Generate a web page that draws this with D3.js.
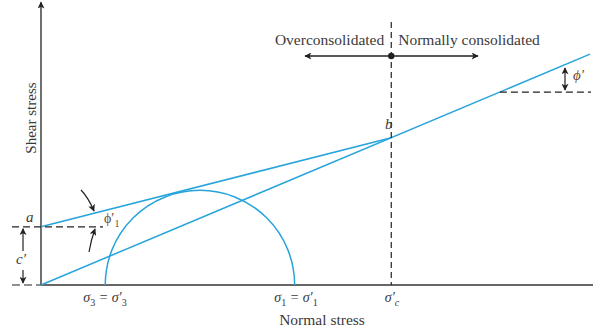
<!DOCTYPE html>
<html><head><meta charset="utf-8">
<script src="https://cdn.jsdelivr.net/npm/d3@7"></script>
<style>
html,body{margin:0;padding:0;background:#fff;}
svg{display:block;}
text{font-family:"Liberation Serif","Times New Roman",serif;fill:#3a3a3a;}
</style></head>
<body>
<svg id="chart" width="596" height="332"></svg>
<script>
// ---- data (stress units) ----
const principalStress = [11.7, 46.2];      // σ3, σ1 of the Mohr circle
const preconsolidation = [63.8];           // σ'c
const cohesion = [10.6];                   // c'
const ncSlope = [0.4205];                  // tan φ' (normally consolidated envelope)
const axisMax = [100, 51.5];               // normal-stress, shear-stress extents
const regionLabels = ["Overconsolidated", "Normally consolidated"];
const axisTitles = ["Normal stress", "Shear stress"];

const svg = d3.select("#chart");
const blue = "#27a4db", ink = "#333";

const pxPerUnit = (590 - 41) / axisMax[0];
const x = d3.scaleLinear().domain([0, axisMax[0]]).range([41, 590]);
const y = d3.scaleLinear().domain([0, axisMax[1]]).range([285, 285 - pxPerUnit * axisMax[1]]);

const defs = svg.append("defs");
function marker(id, color) {
  defs.append("marker").attr("id", id).attr("viewBox", "0 0 10 10")
    .attr("refX", 9).attr("refY", 5).attr("markerWidth", 9).attr("markerHeight", 7)
    .attr("markerUnits", "userSpaceOnUse").attr("orient", "auto")
    .append("path").attr("d", "M0,0 L10,5 L0,10 L2.5,5 Z").attr("fill", color);
}
marker("arr", "#222");

// axes
svg.append("line").attr("x1", x(0)).attr("x2", x(0)).attr("y1", y(0)).attr("y2", y(axisMax[1]))
  .attr("stroke", ink).attr("stroke-width", 1.4).attr("marker-end", "url(#arr)");
svg.append("line").attr("x1", x(0)).attr("x2", 593).attr("y1", y(0)).attr("y2", y(0))
  .attr("stroke", ink).attr("stroke-width", 1.4);
svg.append("line").attr("x1", 12).attr("x2", x(0)).attr("y1", y(0)).attr("y2", y(0))
  .attr("stroke", "#222").attr("stroke-width", 1.2).attr("stroke-dasharray", "8,4");

const s3 = principalStress[0], s1 = principalStress[1], sc = preconsolidation[0], c = cohesion[0], k = ncSlope[0];
const tauB = sc * k;

// Mohr circle
const r = (x(s1) - x(s3)) / 2;
svg.append("path")
  .attr("d", `M${x(s3)},${y(0)} A${r},${r} 0 0 1 ${x(s1)},${y(0)}`)
  .attr("fill", "none").attr("stroke", blue).attr("stroke-width", 1.5);

// envelopes
const line = d3.line().x(d => x(d[0])).y(d => y(d[1]));
svg.append("path").datum([[0, 0], [axisMax[0], axisMax[0] * k]]).attr("d", line)
  .attr("fill", "none").attr("stroke", blue).attr("stroke-width", 1.5);
svg.append("path").datum([[0, c], [sc, tauB]]).attr("d", line)
  .attr("fill", "none").attr("stroke", blue).attr("stroke-width", 1.5);

// dashed lines
svg.append("line").attr("x1", 12).attr("x2", 103).attr("y1", y(c)).attr("y2", y(c))
  .attr("stroke", "#222").attr("stroke-width", 1.2).attr("stroke-dasharray", "7,4");
svg.append("line").attr("x1", x(sc)).attr("x2", x(sc)).attr("y1", 22).attr("y2", y(0))
  .attr("stroke", "#222").attr("stroke-width", 1.2).attr("stroke-dasharray", "6,4");
const tauR = 35.15;
svg.append("line").attr("x1", x(tauR / k)).attr("x2", 591).attr("y1", y(tauR)).attr("y2", y(tauR))
  .attr("stroke", "#222").attr("stroke-width", 1.2).attr("stroke-dasharray", "7,4");

// region arrows
const dotY = 56;
svg.append("circle").attr("cx", x(sc)).attr("cy", dotY).attr("r", 3.2).attr("fill", "#222");
svg.append("line").attr("x1", x(sc)).attr("x2", 305).attr("y1", dotY).attr("y2", dotY)
  .attr("stroke", "#222").attr("stroke-width", 1.4).attr("marker-end", "url(#arr)");
svg.append("line").attr("x1", x(sc)).attr("x2", 478).attr("y1", dotY).attr("y2", dotY)
  .attr("stroke", "#222").attr("stroke-width", 1.4).attr("marker-end", "url(#arr)");
svg.append("text").attr("x", x(sc) - 7).attr("y", 45).attr("text-anchor", "end")
  .attr("font-size", 15.5).text(regionLabels[0]);
svg.append("text").attr("x", x(sc) + 7).attr("y", 45).attr("text-anchor", "start")
  .attr("font-size", 15.5).text(regionLabels[1]);

function arrow(x1, y1, x2, y2) {
  svg.append("line").attr("x1", x1).attr("y1", y1).attr("x2", x2).attr("y2", y2)
    .attr("stroke", "#222").attr("stroke-width", 1.2).attr("marker-end", "url(#arr)");
}
arrow(23, 251, 23, y(c) + 2);
arrow(23, 270, 23, y(0) - 2);
svg.append("path").attr("d", "M81,190 Q88,197 94,211").attr("fill", "none")
  .attr("stroke", "#222").attr("stroke-width", 1.2).attr("marker-end", "url(#arr)");
svg.append("path").attr("d", "M89,252 Q91,240 95,229").attr("fill", "none")
  .attr("stroke", "#222").attr("stroke-width", 1.2).attr("marker-end", "url(#arr)");
arrow(565, 81, 565, 68);
arrow(565, 81, 565, y(tauR) - 2);

// labels: each label is one text with tspans; sub/sup shift without backward overlap
function rich(xp, yp, parts, size, anchor, color) {
  const t = svg.append("text").attr("x", xp).attr("y", yp).attr("font-size", size)
    .attr("text-anchor", anchor || "start");
  if (color) t.style("fill", color);
  let cur = 0;
  parts.forEach(p => {
    const sp = t.append("tspan").text(p.t);
    const target = p.sub ? 4 : 0;
    if (target !== cur) sp.attr("dy", target - cur);
    cur = target;
    if (p.sub) sp.attr("font-size", size * 0.72);
    if (p.it) sp.attr("font-style", "italic");
  });
  return t;
}
rich(105, 302, [{t: "σ", it: 1}, {t: "3", sub: 1}, {t: " = σ′", it: 1}, {t: "3", sub: 1}], 14, "middle");
rich(296, 302, [{t: "σ", it: 1}, {t: "1", sub: 1}, {t: " = σ′", it: 1}, {t: "1", sub: 1}], 14, "middle");
rich(392, 302, [{t: "σ′", it: 1}, {t: "c", sub: 1, it: 1}], 14, "middle");
rich(16, 264, [{t: "c′", it: 1}], 15, "start");
rich(26, 222, [{t: "a", it: 1}], 15, "start");
rich(385, 129, [{t: "b", it: 1}], 15, "start");
rich(104, 223, [{t: "ϕ′"}, {t: "1", sub: 1}], 14, "start", "#6b4a2e");
rich(573, 80, [{t: "ϕ′", it: 1}], 15, "start", "#6b4a2e");

svg.append("text").attr("x", 322).attr("y", 325).attr("text-anchor", "middle")
  .attr("font-size", 15.5).text(axisTitles[0]);
svg.append("text").attr("transform", "translate(36,118) rotate(-90)").attr("text-anchor", "middle")
  .attr("font-size", 15).text(axisTitles[1]);
</script>
</body></html>
